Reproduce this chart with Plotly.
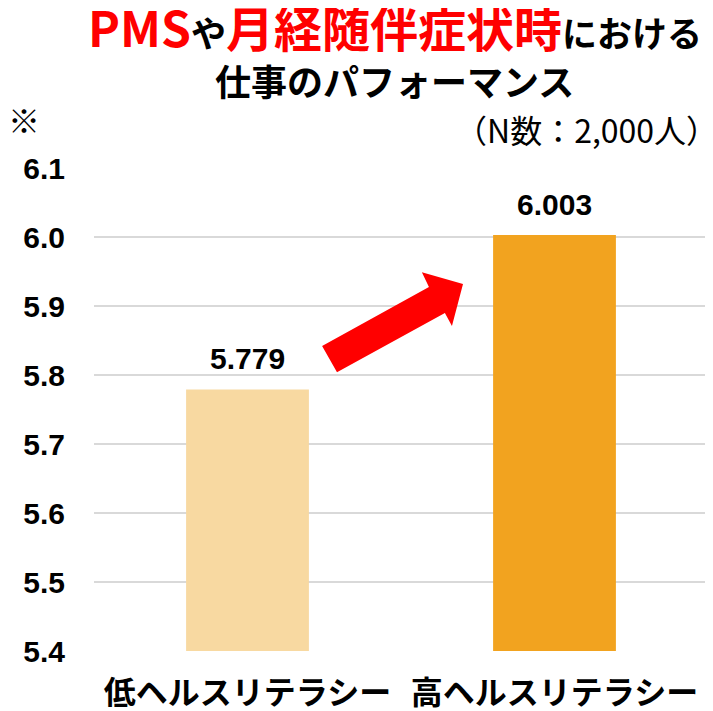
"""
plot.py — work performance during PMS / menstrual symptoms, by health literacy.
"""

import plotly.graph_objects as go

# ── Data ──────────────────────────────────────────────────────────────────────

categories = ["低ヘルスリテラシー", "高ヘルスリテラシー"]
scores = [5.779, 6.003]
y_ticks = [5.4, 5.5, 5.6, 5.7, 5.8, 5.9, 6.0, 6.1]

BAR_COLORS = ["#F8D9A1", "#F2A31F"]
JP_FONT = "Noto Sans CJK JP, Noto Sans, sans-serif"
NUM_FONT = "Liberation Sans, Arial, sans-serif"

# ── Figure ────────────────────────────────────────────────────────────────────

fig = go.Figure(
    go.Bar(
        x=categories,
        y=scores,
        marker_color=BAR_COLORS,
        marker_line_width=0,
        hoverinfo="skip",
    )
)

# value labels above each bar
for cat, val in zip(categories, scores):
    fig.add_annotation(
        x=cat, y=val, text=f"{val:.3f}",
        showarrow=False, yanchor="bottom", yshift=12,
        font=dict(family=NUM_FONT, size=30, color="black", weight="bold"),
    )

# red "upward" arrow between the bars (decoration, in category/value units)
fig.add_shape(
    type="path",
    xref="x", yref="y",
    path=(
        "M 0.243 5.842 L 0.591 5.9275 L 0.568 5.949 L 0.702 5.932 "
        "L 0.666 5.871 L 0.643 5.890 L 0.2915 5.804 Z"
    ),
    fillcolor="#FF0000",
    line_width=0,
    layer="above",
)

title_line1 = (
    "<span style='color:#FF0000;font-size:48px'>PMS</span>"
    "<span style='font-size:35px'>や</span>"
    "<span style='color:#FF0000;font-size:48px'>月経随伴症状時</span>"
    "<span style='font-size:35px'>における</span>"
)
fig.add_annotation(
    text=title_line1, xref="paper", yref="paper", x=0.49, y=1.295,
    showarrow=False, xanchor="center", yanchor="middle",
    font=dict(family=JP_FONT, color="black", weight="bold"),
)
fig.add_annotation(
    text="仕事のパフォーマンス", xref="paper", yref="paper", x=0.49, y=1.183,
    showarrow=False, xanchor="center", yanchor="middle",
    font=dict(family=JP_FONT, size=36, color="black", weight="bold"),
)
fig.add_annotation(
    text="※", xref="paper", yref="paper", x=-0.114, y=1.102,
    showarrow=False, xanchor="center", yanchor="middle",
    font=dict(family=JP_FONT, size=32, color="black"),
)
fig.add_annotation(
    text="（N数：2,000人）", xref="paper", yref="paper", x=1.02, y=1.08,
    showarrow=False, xanchor="right", yanchor="middle",
    font=dict(family=JP_FONT, size=32, color="black"),
)

fig.update_layout(
    width=705,
    height=703,
    margin=dict(l=86, r=5, t=160, b=60),
    plot_bgcolor="white",
    paper_bgcolor="white",
    bargap=0.6,
    showlegend=False,
    xaxis=dict(
        automargin=False,
        showgrid=False,
        showline=False,
        ticks="",
        ticklabelstandoff=20,
        tickfont=dict(family=JP_FONT, size=32, color="black", weight="bold"),
    ),
    yaxis=dict(
        automargin=False,
        range=[5.4, 6.1],
        tickvals=y_ticks,
        tickformat=".1f",
        showgrid=True,
        gridcolor="#D9D9D9",
        gridwidth=2,
        zeroline=False,
        showline=False,
        ticks="",
        ticklabelstandoff=28,
        tickfont=dict(family=NUM_FONT, size=30, color="black", weight="bold"),
    ),
)

fig.write_html("out.html")
